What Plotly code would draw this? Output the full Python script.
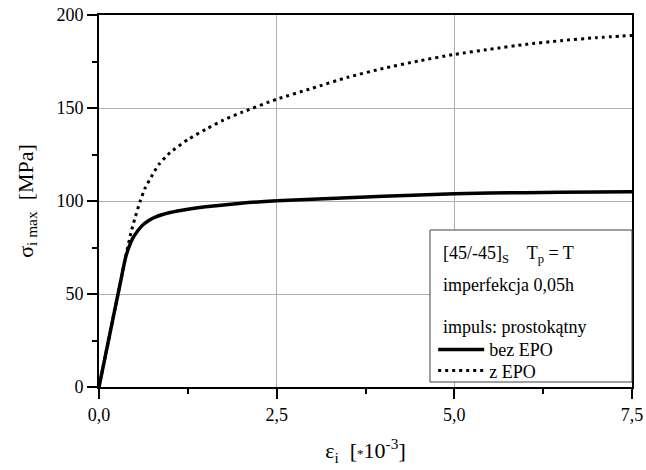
import plotly.graph_objects as go

# strain [*10^-3] and equivalent stress [MPa]
eps_bez = [0, 0.1, 0.2, 0.3, 0.38, 0.45, 0.5, 0.6, 0.7, 0.8, 1.0, 1.25, 1.5,
           2.0, 2.5, 3.0, 3.5, 4.0, 5.0, 6.0, 7.0, 7.5]
sig_bez = [0, 18.7, 37.4, 56, 70.5, 78, 81.5, 86.5, 89.5, 91.5, 93.8, 95.6, 96.9,
           98.8, 100.1, 101, 101.8, 102.5, 103.9, 104.5, 104.9, 105.0]

eps_z = [0, 0.1, 0.2, 0.3, 0.38, 0.45, 0.5, 0.58, 0.65, 0.75, 0.85, 1.0, 1.25,
         1.5, 1.75, 2.0, 2.5, 3.0, 3.5, 4.0, 4.5, 5.0, 5.5, 6.0, 6.5, 7.0, 7.5]
sig_z = [0, 18.7, 37.4, 56, 71, 83, 90, 100, 107, 114, 120, 126, 133,
         138.5, 143.5, 147.5, 154.7, 160.6, 166.5, 171.3, 175.3, 178.8, 181.6,
         184.2, 186.2, 187.8, 189.0]

x_ticks = [0, 2.5, 5.0, 7.5]
y_ticks = [0, 50, 100, 150, 200]

info_lines = [
    "[45/-45]<sub>S</sub>    T<sub>p</sub> = T",
    "imperfekcja 0,05h",
    "impuls: prostokątny",
]

FONT = "Liberation Serif"

fig = go.Figure()
fig.add_trace(go.Scatter(
    x=eps_bez, y=sig_bez, mode="lines", name="bez EPO", legend="legend",
    line=dict(color="black", width=3.5, shape="spline", smoothing=0.6),
))
fig.add_trace(go.Scatter(
    x=eps_z, y=sig_z, mode="lines", name="z EPO", legend="legend2",
    line=dict(color="black", width=3, dash="3px,4px", shape="spline", smoothing=0.6),
))

axis_common = dict(
    showline=True, linecolor="black", linewidth=2, mirror=True,
    ticks="outside", ticklen=10, tickwidth=1.5, tickcolor="black",
    showgrid=True, gridcolor="#b0b0b0", gridwidth=1,
    zeroline=False, automargin=False,
    tickfont=dict(family=FONT, size=18, color="black"),
)

fig.update_xaxes(
    range=[0, 7.5], tickvals=x_ticks, tickformat=".1f",
    minor=dict(dtick=1.25, tick0=0, ticklen=5, tickwidth=1.5, tickcolor="black",
               ticks="outside", showgrid=False),
    title=dict(text="ε<sub>i</sub>  [<span style='font-size:13px'>*</span>10<sup>-3</sup>]",
               font=dict(family=FONT, size=22, color="black"), standoff=19),
    **axis_common,
)
fig.update_yaxes(
    range=[0, 200], tickvals=y_ticks,
    minor=dict(dtick=25, tick0=0, ticklen=5, tickwidth=1.5, tickcolor="black",
               ticks="outside", showgrid=False),
    title=dict(text="σ<sub>i max</sub>  [MPa]",
               font=dict(family=FONT, size=22, color="black"), standoff=17),
    **axis_common,
)

# framed info box in the lower right corner of the plot
fig.add_shape(
    type="rect", xref="paper", yref="paper",
    x0=0.621, x1=1.0, y0=0.0134, y1=0.422,
    fillcolor="white", line=dict(color="#404040", width=1), layer="above",
)
for text, yy in zip(info_lines, [0.355, 0.274, 0.161]):
    fig.add_annotation(
        text=text, xref="paper", yref="paper", x=0.6417, y=yy,
        xanchor="left", yanchor="middle", showarrow=False,
        font=dict(family=FONT, size=18, color="black"),
    )

legend_style = dict(
    xanchor="left", yanchor="top",
    bgcolor="rgba(0,0,0,0)", borderwidth=0,
    font=dict(family=FONT, size=18, color="black"),
    itemwidth=46,
)

fig.update_layout(
    width=646, height=470,
    margin=dict(l=99, r=14, t=15, b=83),
    paper_bgcolor="white", plot_bgcolor="white",
    separators=",.",
    showlegend=True,
    legend=dict(x=0.627, y=0.150, **legend_style),
    legend2=dict(x=0.627, y=0.093, **legend_style),
    font=dict(family=FONT, color="black"),
)

fig.write_html("out.html")
